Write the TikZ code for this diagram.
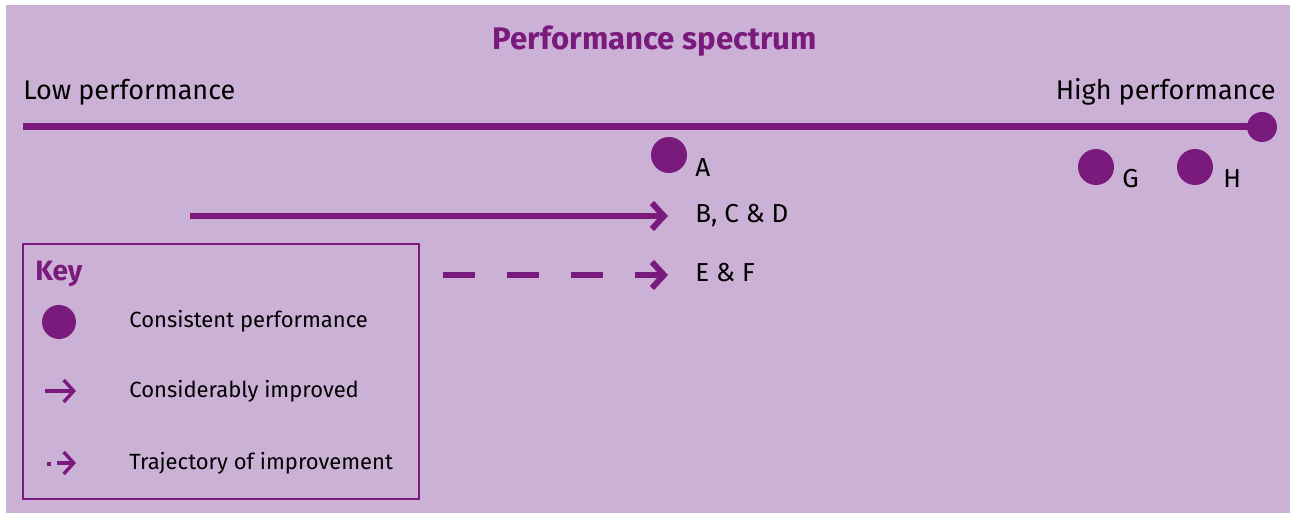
\documentclass[tikz,border=0pt]{standalone}
\usepackage{fontspec}
\setmainfont{Fira Sans}
\usetikzlibrary{arrows.meta}
\definecolor{bg}{HTML}{CCB1D6}
\definecolor{pur}{HTML}{7B1A7D}
\tikzset{
  lbl/.style={font=\fontsize{13pt}{15pt}\selectfont, text=black, inner sep=0pt},
  keylbl/.style={font=\fontsize{11pt}{13pt}\selectfont, text=black, inner sep=0pt},
  dot/.style={circle, fill=pur, inner sep=0pt, minimum size=#1},
  bigarrow/.style={draw=pur, line width=3pt, -{Straight Barb[length=6pt,width=13pt,line width=3pt]}},
  smallarrow/.style={draw=pur, line width=1.7pt, -{Straight Barb[length=5pt,width=11pt,line width=1.7pt]}}
}
\begin{document}
\begin{tikzpicture}[x=0.5pt,y=-0.5pt]
\useasboundingbox (0,0) rectangle (1290,513);
\fill[white] (0,0) rectangle (1290,513);
\fill[bg] (6,5) rectangle (1290,513);
% title
\node[anchor=base, font=\fontsize{15.6pt}{18pt}\selectfont\bfseries, text=pur, inner sep=0pt] (title) at (655,50) {Performance spectrum};
\node[lbl, font=\fontsize{13.5pt}{15pt}\selectfont, anchor=base west] (low) at (23,100) {Low performance};
\node[lbl, font=\fontsize{13.5pt}{15pt}\selectfont, anchor=base east] (high) at (1276,100) {High performance};
% spectrum line
\coordinate (ls) at (23,127);
\node[dot=15pt] (hend) at (1262,127) {};
\draw[pur, line width=3.5pt] (ls) -- (hend.center);
% points
\node[dot=18pt] (pa) at (669,155) {};
\node[lbl, anchor=base west] (la) at (695,177) {A};
\node[dot=18pt] (pg) at (1096,167) {};
\node[lbl, anchor=base west] (lg) at (1122,188) {G};
\node[dot=18pt] (ph) at (1195,167) {};
\node[lbl, anchor=base west] (lh) at (1223,188) {H};
% arrows
\coordinate (bs) at (190,216);
\coordinate (be) at (668,216);
\draw[bigarrow] (bs) -- (be);
\node[lbl, anchor=base west] (lb) at (695,223) {B, C \& D};
\coordinate (es) at (443,275);
\coordinate (ee) at (668,275);
\draw[bigarrow, dash pattern=on 16pt off 16pt] (es) -- (ee);
\node[lbl, anchor=base west] (le) at (695,282) {E \& F};
% key
\draw[pur, line width=1.3pt] (23,244) rectangle (419,499);
\node[anchor=base west, font=\fontsize{14pt}{16pt}\selectfont\bfseries, text=pur, inner sep=0pt] (key) at (35,281) {Key};
\node[dot=17pt] (kd) at (59,322) {};
\node[keylbl, anchor=base west] (k1) at (129,328) {Consistent performance};
\coordinate (k2s) at (45,391);
\coordinate (k2e) at (76,391);
\draw[smallarrow] (k2s) -- (k2e);
\node[keylbl, anchor=base west] (k2) at (129,397) {Considerably improved};
\fill[pur] (46.5,461.5) rectangle (50.5,465.5);
\coordinate (k3s) at (57,463);
\coordinate (k3e) at (76,463);
\draw[smallarrow] (k3s) -- (k3e);
\node[keylbl, anchor=base west] (k3) at (129,469) {Trajectory of improvement};
\end{tikzpicture}
\end{document}
